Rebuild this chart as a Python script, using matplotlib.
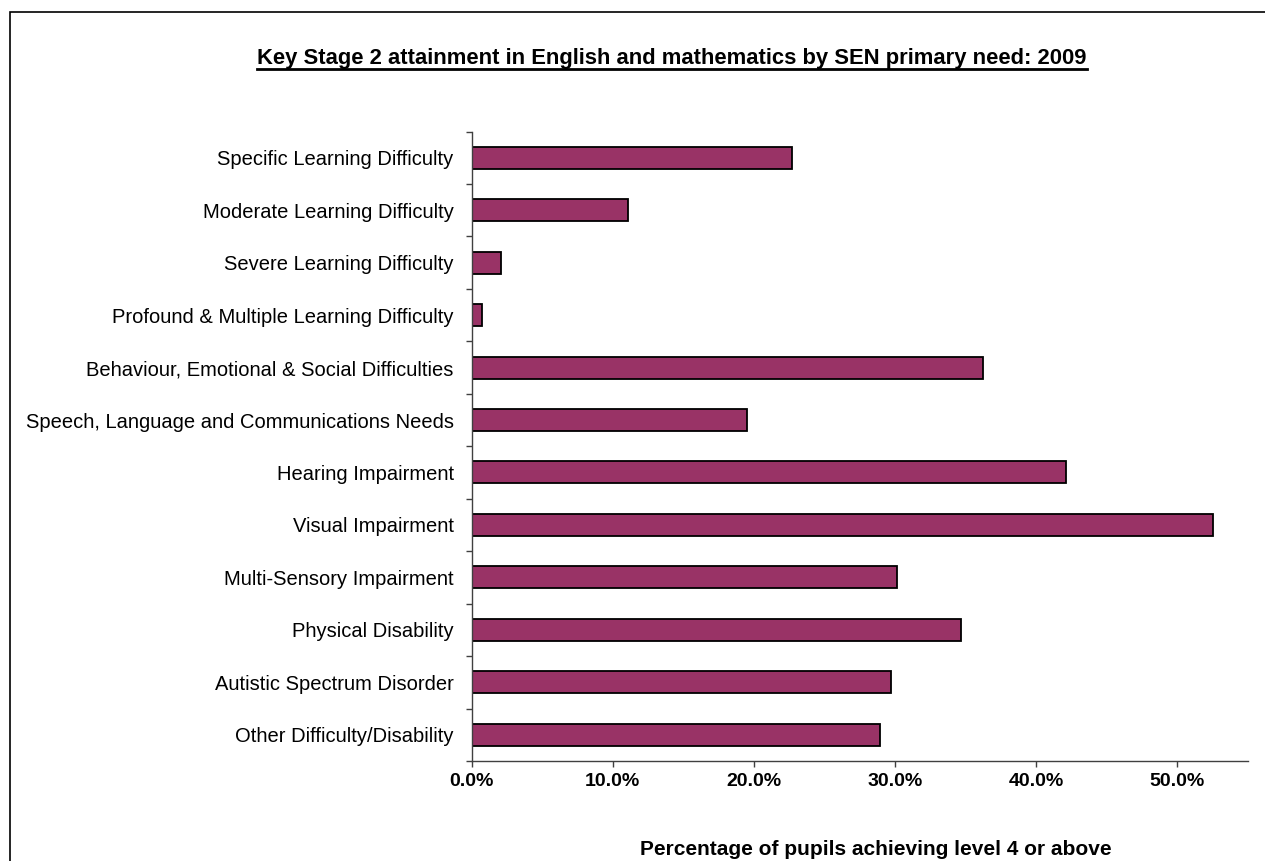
import matplotlib
matplotlib.use('Agg')
import matplotlib.pyplot as plt
from matplotlib.lines import Line2D
from matplotlib.patches import Rectangle
from matplotlib.ticker import FixedLocator, PercentFormatter

categories = [
	'Specific Learning Difficulty',
	'Moderate Learning Difficulty',
	'Severe Learning Difficulty',
	'Profound & Multiple Learning Difficulty',
	'Behaviour, Emotional & Social Difficulties',
	'Speech, Language and Communications Needs',
	'Hearing Impairment',
	'Visual Impairment',
	'Multi-Sensory Impairment',
	'Physical Disability',
	'Autistic Spectrum Disorder',
	'Other Difficulty/Disability',
]
pct_level4 = [0.227, 0.111, 0.021, 0.007, 0.362, 0.195, 0.421, 0.525, 0.301, 0.347, 0.297, 0.289]
x_ticks = [0.0, 0.1, 0.2, 0.3, 0.4, 0.5]

TITLE = 'Key Stage 2 attainment in English and mathematics by SEN primary need: 2009'
XLABEL = 'Percentage of pupils achieving level 4 or above'

W, H = 1265, 861
fig = plt.figure(figsize=(W / 100, H / 100), dpi=100)
plt.rcParams['font.family'] = ['Liberation Sans', 'DejaVu Sans']

# outer chart frame (runs off the right/bottom edge)
fig.patches.append(Rectangle((10 / W, -0.05), 1.2, 1 - 12 / H + 0.05, transform=fig.transFigure,
	fill=False, edgecolor='black', linewidth=1.2))

ax = fig.add_axes([471.7 / W, 1 - 761 / H, (1248 - 471.7) / W, (761 - 131.5) / H])
pos = list(range(len(categories)))
ax.barh(pos, pct_level4, height=0.42, color='#993366', edgecolor='black', linewidth=1.3)

ax.set_ylim(len(categories) - 0.5, -0.5)
ax.set_xlim(0, 0.55)
ax.set_yticks(pos)
ax.set_yticklabels(categories, fontsize=14.5, color='black')
ax.tick_params(axis='y', which='major', length=0, pad=13)
ax.yaxis.set_minor_locator(FixedLocator([i - 0.5 for i in range(len(categories) + 1)]))
ax.tick_params(axis='y', which='minor', length=4.5, width=1, color='#404040', direction='out')

ax.set_xticks(x_ticks)
ax.xaxis.set_major_formatter(PercentFormatter(1.0, decimals=1))
ax.tick_params(axis='x', length=4, width=1, color='#404040', pad=5, labelsize=14)
for lbl in ax.get_xticklabels():
	lbl.set_fontweight('bold')

for side in ['top', 'right']:
	ax.spines[side].set_visible(False)
for side in ['left', 'bottom']:
	ax.spines[side].set_color('#404040')
	ax.spines[side].set_linewidth(1)

fig.text(876 / W, 1 - 855 / H, XLABEL, ha='center', va='baseline', fontsize=15, fontweight='bold')

title = fig.text(672 / W, 1 - 64 / H, TITLE, ha='center', va='baseline', fontsize=15.8, fontweight='bold')
fig.canvas.draw()
bb = title.get_window_extent().transformed(fig.transFigure.inverted())
fig.add_artist(Line2D([bb.x0, bb.x1], [1 - 69 / H, 1 - 69 / H], transform=fig.transFigure, color='black', linewidth=2))

fig.savefig('out.png', dpi=100)
